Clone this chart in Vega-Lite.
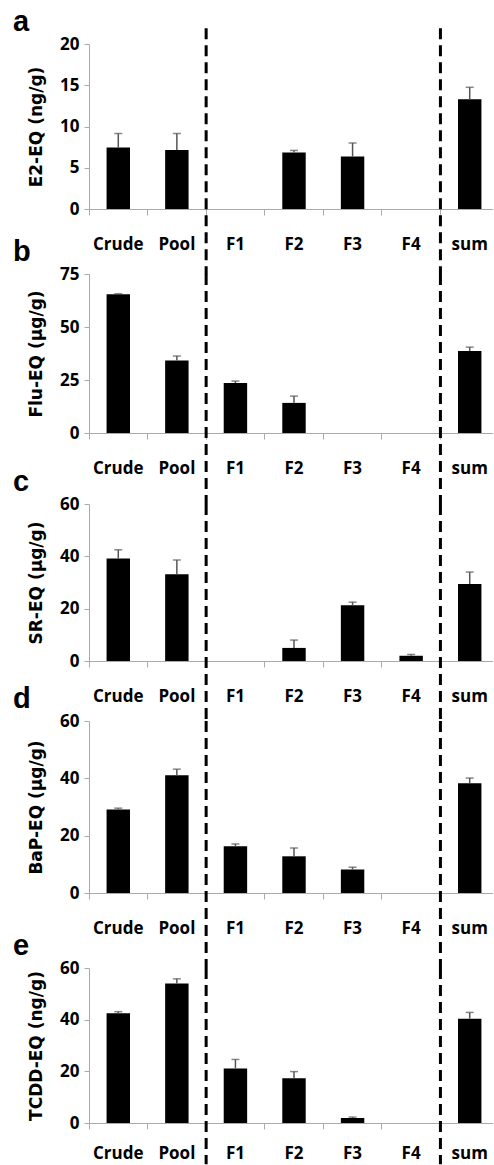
{
  "$schema": "https://vega.github.io/schema/vega-lite/v6.json",
  "padding": {"left": 13, "top": 7, "right": -6, "bottom": 0},
  "datasets": {
    "a": [
      {"cat": "Crude", "v": 7.45, "hi": 9.15},
      {"cat": "Pool", "v": 7.15, "hi": 9.15},
      {"cat": "F2", "v": 6.85, "hi": 7.1},
      {"cat": "F3", "v": 6.35, "hi": 8.0},
      {"cat": "sum", "v": 13.3, "hi": 14.75}
    ],
    "b": [
      {"cat": "Crude", "v": 65.5, "hi": 65.7},
      {"cat": "Pool", "v": 34.2, "hi": 36.3},
      {"cat": "F1", "v": 23.6, "hi": 24.5},
      {"cat": "F2", "v": 14.2, "hi": 17.4},
      {"cat": "sum", "v": 38.7, "hi": 40.5}
    ],
    "c": [
      {"cat": "Crude", "v": 39.2, "hi": 42.5},
      {"cat": "Pool", "v": 33.2, "hi": 38.6},
      {"cat": "F2", "v": 5.0, "hi": 8.0},
      {"cat": "F3", "v": 21.3, "hi": 22.5},
      {"cat": "F4", "v": 2.0, "hi": 2.5},
      {"cat": "sum", "v": 29.4, "hi": 34.0}
    ],
    "d": [
      {"cat": "Crude", "v": 29.1, "hi": 29.6},
      {"cat": "Pool", "v": 41.1, "hi": 43.2},
      {"cat": "F1", "v": 16.3, "hi": 17.1},
      {"cat": "F2", "v": 12.8, "hi": 15.7},
      {"cat": "F3", "v": 8.2, "hi": 9.0},
      {"cat": "sum", "v": 38.3, "hi": 40.1}
    ],
    "e": [
      {"cat": "Crude", "v": 42.5, "hi": 43.1},
      {"cat": "Pool", "v": 54.0, "hi": 55.8},
      {"cat": "F1", "v": 21.1, "hi": 24.6},
      {"cat": "F2", "v": 17.3, "hi": 19.9},
      {"cat": "F3", "v": 1.9, "hi": 2.3},
      {"cat": "sum", "v": 40.4, "hi": 42.8}
    ],
    "bounds": [{"cat": "F1"}, {"cat": "sum"}]
  },
  "spacing": 65,
  "bounds": "flush",
  "vconcat": [
    {
      "data": {"name": "a"},
      "title": {"text": "a", "dy": 15},
      "width": 410, "height": 165,
      "encoding": {"x": {"field": "cat", "type": "nominal", "sort": null, "scale": {"domain": ["Crude","Pool","F1","F2","F3","F4","sum"], "paddingInner": 0, "paddingOuter": 0}, "axis": {"bandPosition": 0, "labelAngle": 0, "labelPadding": 21, "tickSize": 6, "title": null, "labelOverlap": false}}},
      "layer": [
        {"mark": {"type": "bar", "color": "#000", "width": {"band": 0.4}}, "encoding": {"y": {"field": "v", "type": "quantitative", "scale": {"domain": [0, 20], "nice": false}, "axis": {"values": [0, 5, 10, 15, 20], "title": "E2-EQ (ng/g)"}}}},
        {"mark": {"type": "rule", "color": "#555", "strokeWidth": 1.5}, "encoding": {"y": {"field": "v", "type": "quantitative", "scale": {"domain": [0, 20], "nice": false}}, "y2": {"field": "hi"}}},
        {"mark": {"type": "tick", "color": "#555", "size": 8, "thickness": 1.5}, "encoding": {"y": {"field": "hi", "type": "quantitative", "scale": {"domain": [0, 20], "nice": false}}}},
        {"data": {"name": "bounds"}, "mark": {"type": "rule", "color": "#000", "strokeWidth": 3, "strokeDash": [11, 6]}, "encoding": {"x": {"field": "cat", "type": "nominal", "bandPosition": 0}, "y": {"datum": 21.9, "type": "quantitative", "scale": {"domain": [0, 20], "nice": false}}, "y2": {"datum": -7.9}}}
      ]
    },
    {
      "spacing": 71,
      "bounds": "flush",
      "vconcat": [
        {
          "data": {"name": "b"},
          "title": {"text": "b", "dy": 7},
          "width": 410, "height": 159,
          "encoding": {"x": {"field": "cat", "type": "nominal", "sort": null, "scale": {"domain": ["Crude","Pool","F1","F2","F3","F4","sum"], "paddingInner": 0, "paddingOuter": 0}, "axis": {"bandPosition": 0, "labelAngle": 0, "labelPadding": 21, "tickSize": 6, "title": null, "labelOverlap": false}}},
          "layer": [
            {"mark": {"type": "bar", "color": "#000", "width": {"band": 0.4}}, "encoding": {"y": {"field": "v", "type": "quantitative", "scale": {"domain": [0, 75], "nice": false}, "axis": {"values": [0, 25, 50, 75], "title": "Flu-EQ (µg/g)"}}}},
            {"mark": {"type": "rule", "color": "#555", "strokeWidth": 1.5}, "encoding": {"y": {"field": "v", "type": "quantitative", "scale": {"domain": [0, 75], "nice": false}}, "y2": {"field": "hi"}}},
            {"mark": {"type": "tick", "color": "#555", "size": 8, "thickness": 1.5}, "encoding": {"y": {"field": "hi", "type": "quantitative", "scale": {"domain": [0, 75], "nice": false}}}},
            {"data": {"name": "bounds"}, "mark": {"type": "rule", "color": "#000", "strokeWidth": 3, "strokeDash": [11, 6]}, "encoding": {"x": {"field": "cat", "type": "nominal", "bandPosition": 0}, "y": {"datum": 75, "type": "quantitative", "scale": {"domain": [0, 75], "nice": false}}, "y2": {"datum": -33.5}}}
          ]
        },
        {
          "spacing": 60,
          "bounds": "flush",
          "vconcat": [
            {
              "data": {"name": "c"},
              "title": {"text": "c", "dy": 7},
              "width": 410, "height": 157,
              "encoding": {"x": {"field": "cat", "type": "nominal", "sort": null, "scale": {"domain": ["Crude","Pool","F1","F2","F3","F4","sum"], "paddingInner": 0, "paddingOuter": 0}, "axis": {"bandPosition": 0, "labelAngle": 0, "labelPadding": 21, "tickSize": 6, "title": null, "labelOverlap": false}}},
              "layer": [
                {"mark": {"type": "bar", "color": "#000", "width": {"band": 0.4}}, "encoding": {"y": {"field": "v", "type": "quantitative", "scale": {"domain": [0, 60], "nice": false}, "axis": {"values": [0, 20, 40, 60], "title": "SR-EQ (µg/g)"}}}},
                {"mark": {"type": "rule", "color": "#555", "strokeWidth": 1.5}, "encoding": {"y": {"field": "v", "type": "quantitative", "scale": {"domain": [0, 60], "nice": false}}, "y2": {"field": "hi"}}},
                {"mark": {"type": "tick", "color": "#555", "size": 8, "thickness": 1.5}, "encoding": {"y": {"field": "hi", "type": "quantitative", "scale": {"domain": [0, 60], "nice": false}}}},
                {"data": {"name": "bounds"}, "mark": {"type": "rule", "color": "#000", "strokeWidth": 3, "strokeDash": [11, 6]}, "encoding": {"x": {"field": "cat", "type": "nominal", "bandPosition": 0}, "y": {"datum": 60, "type": "quantitative", "scale": {"domain": [0, 60], "nice": false}}, "y2": {"datum": -22.9}}}
              ]
            },
            {
              "spacing": 75,
              "bounds": "flush",
              "vconcat": [
                {
                  "data": {"name": "d"},
                  "title": {"text": "d", "dy": 7},
                  "width": 410, "height": 172,
                  "encoding": {"x": {"field": "cat", "type": "nominal", "sort": null, "scale": {"domain": ["Crude","Pool","F1","F2","F3","F4","sum"], "paddingInner": 0, "paddingOuter": 0}, "axis": {"bandPosition": 0, "labelAngle": 0, "labelPadding": 21, "tickSize": 6, "title": null, "labelOverlap": false}}},
                  "layer": [
                    {"mark": {"type": "bar", "color": "#000", "width": {"band": 0.4}}, "encoding": {"y": {"field": "v", "type": "quantitative", "scale": {"domain": [0, 60], "nice": false}, "axis": {"values": [0, 20, 40, 60], "title": "BaP-EQ (µg/g)"}}}},
                    {"mark": {"type": "rule", "color": "#555", "strokeWidth": 1.5}, "encoding": {"y": {"field": "v", "type": "quantitative", "scale": {"domain": [0, 60], "nice": false}}, "y2": {"field": "hi"}}},
                    {"mark": {"type": "tick", "color": "#555", "size": 8, "thickness": 1.5}, "encoding": {"y": {"field": "hi", "type": "quantitative", "scale": {"domain": [0, 60], "nice": false}}}},
                    {"data": {"name": "bounds"}, "mark": {"type": "rule", "color": "#000", "strokeWidth": 3, "strokeDash": [11, 6]}, "encoding": {"x": {"field": "cat", "type": "nominal", "bandPosition": 0}, "y": {"datum": 60, "type": "quantitative", "scale": {"domain": [0, 60], "nice": false}}, "y2": {"datum": -26.2}}}
                  ]
                },
                {
                  "data": {"name": "e"},
                  "title": {"text": "e", "dy": 7},
                  "width": 410, "height": 155,
                  "encoding": {"x": {"field": "cat", "type": "nominal", "sort": null, "scale": {"domain": ["Crude","Pool","F1","F2","F3","F4","sum"], "paddingInner": 0, "paddingOuter": 0}, "axis": {"bandPosition": 0, "labelAngle": 0, "labelPadding": 16, "tickSize": 6, "title": null, "labelOverlap": false}}},
                  "layer": [
                    {"mark": {"type": "bar", "color": "#000", "width": {"band": 0.4}}, "encoding": {"y": {"field": "v", "type": "quantitative", "scale": {"domain": [0, 60], "nice": false}, "axis": {"values": [0, 20, 40, 60], "title": "TCDD-EQ (ng/g)"}}}},
                    {"mark": {"type": "rule", "color": "#555", "strokeWidth": 1.5}, "encoding": {"y": {"field": "v", "type": "quantitative", "scale": {"domain": [0, 60], "nice": false}}, "y2": {"field": "hi"}}},
                    {"mark": {"type": "tick", "color": "#555", "size": 8, "thickness": 1.5}, "encoding": {"y": {"field": "hi", "type": "quantitative", "scale": {"domain": [0, 60], "nice": false}}}},
                    {"data": {"name": "bounds"}, "mark": {"type": "rule", "color": "#000", "strokeWidth": 3, "strokeDash": [11, 6]}, "encoding": {"x": {"field": "cat", "type": "nominal", "bandPosition": 0}, "y": {"datum": 60, "type": "quantitative", "scale": {"domain": [0, 60], "nice": false}}, "y2": {"datum": -16}}}
                  ]
                }
              ]
            }
          ]
        }
      ]
    }
  ],
  "config": {
    "view": {"stroke": null},
    "axis": {"labelFont": "Open Sans", "labelFontWeight": "bold", "labelFontSize": 17, "labelColor": "#000", "titleFont": "DejaVu Sans", "titleFontWeight": "bold", "titleFontSize": 17, "titleColor": "#000", "domainColor": "#aaa", "tickColor": "#aaa", "grid": false},
    "axisY": {"tickSize": 5, "labelPadding": 5, "titlePadding": 14},
    "title": {"font": "Liberation Sans", "fontSize": 29, "fontWeight": "bold", "color": "#000", "anchor": "start", "frame": "group", "dx": -76, "offset": 5, "baseline": "bottom"}
  }
}
